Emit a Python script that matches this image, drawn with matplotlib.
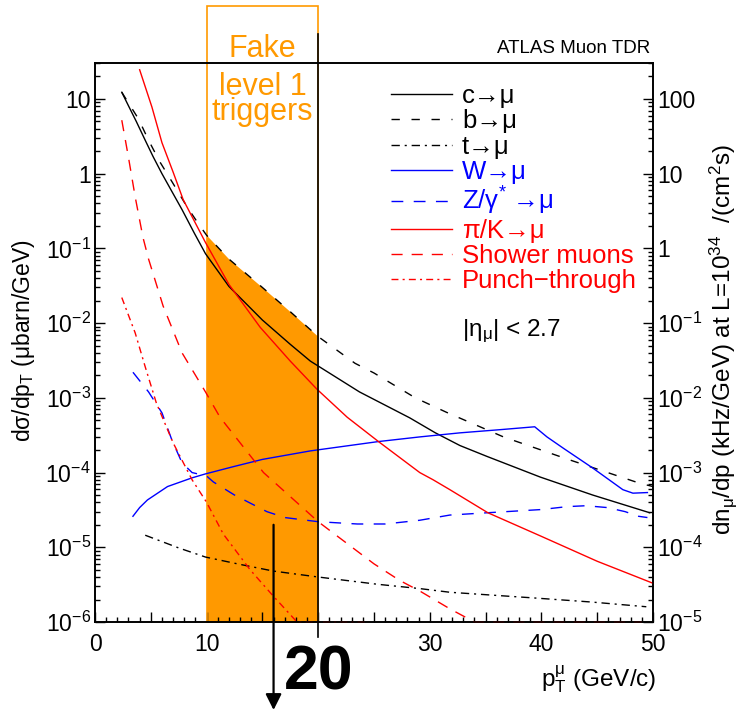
import numpy as np
import matplotlib
matplotlib.use('Agg')
import matplotlib.pyplot as plt
import matplotlib.transforms as mtransforms
from matplotlib.ticker import LogLocator, FuncFormatter, MultipleLocator, NullFormatter

plt.rcParams['font.family'] = ['Liberation Sans', 'DejaVu Sans']
plt.rcParams['mathtext.fontset'] = 'custom'
plt.rcParams['mathtext.rm'] = 'Liberation Sans'
plt.rcParams['mathtext.it'] = 'Liberation Sans:italic'
plt.rcParams['mathtext.bf'] = 'Liberation Sans:bold'

# ---------------- data (pT in GeV/c, dsigma/dpT in microbarn/GeV) ----------------
c_x = [2.4, 3.0, 3.7, 4.5, 5.2, 6.0, 7.0, 7.8, 8.9, 9.9, 12.0, 15.0, 17.5, 19.3, 23.7, 28.2, 30.5, 32.7, 35.1, 39.9, 44.6, 49.7]
c_y = [12.3, 8.1, 5.0, 2.8, 1.7, 1.0, 0.54, 0.33, 0.16, 0.085, 0.031, 0.011, 5.2e-3, 3.1e-3, 1.2e-3, 5.4e-4, 3.4e-4, 2.3e-4, 1.65e-4, 8.7e-5, 5.0e-5, 2.9e-5]

b_x = [2.4, 3.9, 4.8, 5.8, 6.9, 8.2, 9.3, 10.0, 12.0, 15.0, 17.5, 20.0, 23.3, 25.0, 28.7, 31.5, 36.6, 42.4, 48.8, 50.0]
b_y = [12.3, 5.4, 2.8, 1.45, 0.78, 0.37, 0.21, 0.15, 0.072, 0.030, 0.0142, 6.6e-3, 2.9e-3, 2.15e-3, 1.0e-3, 6.4e-4, 3.0e-4, 1.5e-4, 7.2e-5, 6.5e-5]

t_x = [4.5, 7.5, 9.9, 13.0, 16.0, 20.0, 25.3, 29.1, 31.8, 39.3, 44.5, 49.4]
t_y = [1.45e-5, 9.8e-6, 7.4e-6, 5.9e-6, 4.8e-6, 4.0e-6, 3.2e-6, 2.8e-6, 2.5e-6, 2.1e-6, 1.85e-6, 1.6e-6]

w_x = [3.4, 4.0, 4.7, 6.5, 8.7, 9.9, 12.4, 15.0, 19.3, 25.4, 29.1, 32.7, 36.3, 39.4, 40.5, 42.0, 44.6, 47.3, 48.2, 49.5]
w_y = [2.6e-5, 3.4e-5, 4.3e-5, 6.5e-5, 8.5e-5, 9.6e-5, 1.2e-4, 1.5e-4, 1.95e-4, 2.6e-4, 3.0e-4, 3.4e-4, 3.75e-4, 4.1e-4, 3.0e-4, 2.1e-4, 1.15e-4, 5.9e-5, 5.3e-5, 5.4e-5]

z_x = [3.4, 4.8, 6.0, 6.9, 7.8, 8.7, 10.0, 10.6, 12.5, 15.4, 17.0, 20.0, 23.5, 26.0, 29.1, 31.8, 35.2, 40.0, 42.3, 44.0, 45.9, 47.5, 48.7, 49.5]
z_y = [2.2e-3, 1.2e-3, 6.3e-4, 2.7e-4, 1.35e-4, 1.0e-4, 9.0e-5, 7.5e-5, 5.0e-5, 3.0e-5, 2.5e-5, 2.2e-5, 2.05e-5, 2.05e-5, 2.3e-5, 2.7e-5, 2.9e-5, 3.2e-5, 3.5e-5, 3.6e-5, 3.4e-5, 3.0e-5, 2.6e-5, 2.5e-5]

pik_x = [4.0, 5.1, 6.0, 7.0, 7.9, 9.9, 12.0, 14.8, 17.5, 19.9, 22.6, 25.4, 29.1, 30.3, 31.8, 35.2, 40.0, 45.0, 50.0]
pik_y = [24.6, 7.8, 2.6, 1.05, 0.45, 0.12, 0.033, 8.8e-3, 3.1e-3, 1.3e-3, 5.5e-4, 2.6e-4, 1.0e-4, 8.0e-5, 5.9e-5, 2.9e-5, 1.4e-5, 6.5e-6, 3.3e-6]

sh_x = [2.4, 3.0, 3.6, 4.3, 4.8, 6.1, 7.8, 9.9, 11.2, 15.1, 20.0, 25.0, 27.3, 29.1, 31.8, 34.0, 36.0, 40.0, 44.0, 49.0]
sh_y = [5.2, 1.65, 0.49, 0.14, 0.072, 0.017, 4.0e-3, 1.2e-3, 5.5e-4, 1.0e-4, 2.2e-5, 6.0e-6, 3.6e-6, 2.6e-6, 1.5e-6, 1.0e-6, 1.0e-6, 1.0e-6, 1.0e-6, 1.0e-6]

pt_x = [2.4, 3.6, 4.5, 5.5, 7.0, 8.7, 10.0, 11.5, 13.9, 16.0, 18.1, 20.0, 22.0, 24.4]
pt_y = [0.022, 7.4e-3, 2.6e-3, 8.5e-4, 2.5e-4, 8.0e-5, 4.0e-5, 1.5e-5, 5.0e-6, 2.2e-6, 1.0e-6, 1.0e-6, 1.0e-6, 1.0e-6]

trigger_range = [10, 20]       # fake level-1 trigger band (GeV/c)
threshold = 20                 # highlighted threshold
arrow_pt = 16.0
arrow_start = 2.0e-5
x_range = [0, 50]
y_range = [1e-6, 30.3]
rate_factor = 10.0             # ubarn/GeV -> kHz/GeV at L=1e34 cm^-2 s^-1
x_tick_labels = [0, 10, 30, 40, 50]

ORANGE = '#FF9900'
RED = '#FF0000'
BLUE = '#0000FF'

# ---------------- figure ----------------
fig = plt.figure(figsize=(7.4, 7.1), dpi=100)
W, H = 740.0, 710.0
ax = fig.add_axes([95 / W, 1 - 622 / H, 558 / W, 559 / H])
ax.set_yscale('log')
ax.set_xlim(*x_range)
ax.set_ylim(*y_range)

lw = 1.0
series = [
    (c_x, c_y, 'c→μ', 'black', '-'),
    (b_x, b_y, 'b→μ', 'black', (0, (6, 8.4))),
    (t_x, t_y, 't→μ', 'black', (0, (6, 3.5, 1.5, 3.5))),
    (w_x, w_y, 'W→μ', BLUE, '-'),
    (z_x, z_y, 'Z/γ$^{*}$ →μ', BLUE, (0, (8.5, 7.5))),
    (pik_x, pik_y, 'π/K→μ', RED, '-'),
    (sh_x, sh_y, 'Shower muons', RED, (0, (8, 6.5))),
    (pt_x, pt_y, 'Punch−through', RED, (0, (5, 3, 1.5, 3))),
]
handles = []
for xs, ys, lab, col, ls in series:
    h, = ax.plot(xs, ys, color=col, ls=ls, lw=lw, label=lab, clip_on=False, zorder=3)
    handles.append(h)

# orange band under the b->mu curve
bx = np.array(b_x)
by = np.array(b_y)
m = (bx >= trigger_range[0]) & (bx <= trigger_range[1])
ax.fill_between(bx[m], y_range[0], by[m], color=ORANGE, lw=0, zorder=1)

blend = mtransforms.blended_transform_factory(ax.transData, ax.transAxes)
rect = plt.Rectangle((trigger_range[0], 0), trigger_range[1] - trigger_range[0], 1.102,
                     transform=blend, fill=False, ec=ORANGE, lw=1.2, clip_on=False, zorder=2)
ax.add_patch(rect)
ax.plot([threshold, threshold], [-0.027, 1.052], transform=blend, color='black', lw=1.2,
        clip_on=False, zorder=4)

xc = np.mean(trigger_range)
ax.text(xc, 1.0107, 'Fake', transform=blend, ha='center', va='baseline',
        color=ORANGE, fontsize=22, clip_on=False)
ax.text(xc, 0.898, 'level 1\ntriggers', transform=blend, ha='center', va='baseline',
        color=ORANGE, fontsize=22, linespacing=0.78, multialignment='center', clip_on=False)

ax.text(threshold, -0.1216, str(threshold), transform=blend, ha='center', va='baseline',
        fontsize=45, fontweight='bold', family=['Liberation Sans Narrow', 'Liberation Sans', 'DejaVu Sans'])

ax.annotate('', xy=(arrow_pt, 0.0), xycoords=('data', 'figure fraction'),
            xytext=(arrow_pt, arrow_start), textcoords='data',
            arrowprops=dict(arrowstyle='-|>', color='black', lw=1.6, mutation_scale=24,
                            shrinkA=0, shrinkB=0),
            annotation_clip=False)

# ---------------- axes styling ----------------
for s in ax.spines.values():
    s.set_linewidth(1.2)

ax.xaxis.set_major_locator(MultipleLocator(5))
ax.xaxis.set_minor_locator(MultipleLocator(1))
ax.xaxis.set_major_formatter(FuncFormatter(lambda v, p: f'{int(round(v))}' if int(round(v)) in x_tick_labels else ''))


def log_fmt(v, p):
    e = int(round(np.log10(v)))
    if e >= 0:
        return f'{int(round(v))}'
    return f'$10^{{{e}}}$'


ax.yaxis.set_major_locator(LogLocator(base=10, numticks=20))
ax.yaxis.set_minor_locator(LogLocator(base=10, subs=np.arange(2, 10), numticks=20))
ax.yaxis.set_major_formatter(FuncFormatter(log_fmt))
ax.yaxis.set_minor_formatter(NullFormatter())
ax.tick_params(axis='both', which='both', direction='in', top=False, right=False, width=1.0)
ax.tick_params(axis='both', which='major', length=7.5, labelsize=16.5)
ax.tick_params(axis='both', which='minor', length=3.8)
ax.tick_params(axis='x', which='major', pad=8)
ax.tick_params(axis='y', which='major', pad=3)

ax2 = ax.twinx()
ax2.set_yscale('log')
ax2.set_ylim(y_range[0] * rate_factor, y_range[1] * rate_factor)
ax2.yaxis.set_major_locator(LogLocator(base=10, numticks=20))
ax2.yaxis.set_minor_locator(LogLocator(base=10, subs=np.arange(2, 10), numticks=20))
ax2.yaxis.set_major_formatter(FuncFormatter(log_fmt))
ax2.yaxis.set_minor_formatter(NullFormatter())
ax2.tick_params(axis='y', which='both', direction='in', left=False, right=True, width=1.0)
ax2.tick_params(axis='y', which='major', length=7.5, labelsize=16.5, pad=3)
ax2.tick_params(axis='y', which='minor', length=3.8)
ax2.tick_params(axis='x', which='both', bottom=False, top=False, labelbottom=False, labeltop=False)
for s in ax2.spines.values():
    s.set_linewidth(1.2)

ax.set_ylabel('dσ/dp$_\\mathrm{T}$ (μbarn/GeV)', fontsize=16.5)
ax.yaxis.set_label_coords(-0.104, 0.503)
ax2.set_ylabel('dn$_\\mathrm{μ}$/dp (kHz/GeV) at L=10$^{34}$  /(cm$^{2}$s)', fontsize=17.5)
ax2.yaxis.set_label_coords(1.097, 0.506)

xl = ax.set_xlabel('p$_\\mathrm{T}^\\mathrm{μ}$ (GeV/c)', fontsize=17.5)
ax.xaxis.set_label_coords(1.007, -0.1145)
xl.set_ha('right')
xl.set_va('baseline')

fig.text(650 / W, 1 - 53 / H, 'ATLAS Muon TDR', ha='right', va='baseline', fontsize=13.5)
ax.text(0.6577, 0.5116, '|η$_\\mathrm{μ}$| < 2.7', transform=ax.transAxes, ha='left', va='baseline', fontsize=17.5)

leg = ax.legend(handles=handles, loc='upper left', bbox_to_anchor=(391 / W, 1 - 84 / H),
                bbox_transform=fig.transFigure, frameon=False, fontsize=18.5,
                handlelength=2.37, handletextpad=0.39, labelspacing=0.05,
                borderpad=0, borderaxespad=0, labelcolor='linecolor')
leg.set_zorder(5)

fig.savefig('out.png', dpi=100)
